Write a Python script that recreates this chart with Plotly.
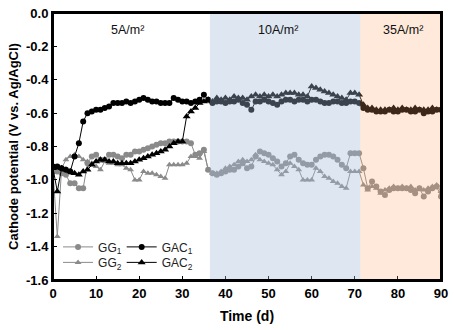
import plotly.graph_objects as go

days = list(range(0, 91))

gg1 = [-0.95, -0.95, -0.96, -0.97, -1.02, -1.02, -1.05, -1.05, -0.90, -0.86,
       -0.85, -0.88, -0.88, -0.85, -0.85, -0.86, -0.87, -0.85, -0.85, -0.83,
       -0.83, -0.82, -0.81, -0.80, -0.79, -0.78, -0.78, -0.77, -0.77, -0.77,
       -0.77, -0.77, -0.78, -0.85, -0.84, -0.82, -0.94, -0.96, -0.97, -0.96,
       -0.95, -0.94, -0.94, -0.92, -0.90, -0.93, -0.92, -0.86, -0.83, -0.84,
       -0.85, -0.87, -0.89, -0.92, -0.90, -0.86, -0.85, -0.88, -0.90, -0.91,
       -0.91, -0.88, -0.86, -0.85, -0.85, -0.86, -0.88, -0.91, -0.93, -0.84,
       -0.84, -0.84, -0.93, -1.05, -1.01, -1.04, -1.07, -1.09, -1.06, -1.05,
       -1.05, -1.05, -1.05, -1.06, -1.08, -1.05, -1.10, -1.07, -1.05, -1.04,
       -1.10]

gg2 = [-0.95, -1.34, -0.93, -0.88, -0.86, -0.85, -0.86, -0.88, -0.89, -0.90,
       -0.92, -0.94, -0.89, -0.90, -0.90, -0.91, -0.91, -0.93, -0.94, -1.00,
       -1.00, -0.95, -0.96, -0.96, -0.97, -0.98, -0.99, -0.91, -0.91, -0.91,
       -0.91, -0.90, -0.86, -0.86, -0.87, -0.83, -0.94, -0.96, -0.96, -0.95,
       -0.93, -0.92, -0.91, -0.89, -0.88, -0.89, -0.88, -0.85, -0.88, -0.89,
       -0.90, -0.91, -0.94, -0.97, -0.95, -0.90, -0.92, -0.94, -1.00, -1.00,
       -1.00, -0.93, -0.95, -0.98, -0.99, -1.01, -1.02, -1.04, -1.05, -0.95,
       -0.95, -0.95, -1.03, -1.06, -1.04, -1.05, -1.08, -1.06, -1.05, -1.04,
       -1.05, -1.04, -1.05, -1.04, -1.06, -1.05, -1.06, -1.05, -1.04, -1.03,
       -1.07]

gac1 = [-0.92, -0.92, -0.93, -0.94, -0.95, -0.86, -0.78, -0.65, -0.60, -0.59,
        -0.58, -0.58, -0.57, -0.56, -0.54, -0.54, -0.54, -0.53, -0.54, -0.53,
        -0.52, -0.51, -0.52, -0.53, -0.53, -0.54, -0.54, -0.54, -0.51, -0.52,
        -0.53, -0.53, -0.54, -0.53, -0.52, -0.49, -0.52, -0.54, -0.53, -0.53,
        -0.54, -0.53, -0.53, -0.52, -0.54, -0.55, -0.58, -0.53, -0.53, -0.52,
        -0.53, -0.54, -0.55, -0.53, -0.52, -0.52, -0.53, -0.52, -0.52, -0.53,
        -0.52, -0.52, -0.53, -0.54, -0.54, -0.53, -0.53, -0.54, -0.54, -0.53,
        -0.53, -0.54, -0.57, -0.58, -0.58, -0.59, -0.59, -0.59, -0.58, -0.59,
        -0.59, -0.58, -0.58, -0.59, -0.59, -0.58, -0.60, -0.59, -0.59, -0.58,
        -0.58]

gac2 = [-0.93, -1.07, -0.93, -0.94, -0.95, -0.96, -0.97, -0.95, -0.94, -0.91,
        -0.89, -0.88, -0.88, -0.89, -0.89, -0.90, -0.90, -0.90, -0.90, -0.89,
        -0.88, -0.87, -0.86, -0.85, -0.84, -0.83, -0.82, -0.80, -0.78, -0.77,
        -0.77, -0.62, -0.59, -0.57, -0.54, -0.53, -0.52, -0.53, -0.51, -0.52,
        -0.51, -0.52, -0.50, -0.51, -0.51, -0.52, -0.50, -0.49, -0.50, -0.49,
        -0.50, -0.49, -0.50, -0.49, -0.48, -0.48, -0.48, -0.49, -0.49, -0.50,
        -0.44, -0.45, -0.46, -0.47, -0.48, -0.49, -0.50, -0.51, -0.52, -0.48,
        -0.48, -0.49, -0.55, -0.57, -0.57, -0.58, -0.58, -0.58, -0.58, -0.57,
        -0.58, -0.57, -0.58, -0.58, -0.57, -0.58, -0.58, -0.58, -0.57, -0.58,
        -0.58]

x_ticks = [0, 10, 20, 30, 40, 50, 60, 70, 80, 90]
y_ticks = [0.0, -0.2, -0.4, -0.6, -0.8, -1.0, -1.2, -1.4, -1.6]
y_ticktext = ["0.0", "-0.2", "-0.4", "-0.6", "-0.8", "-1.0", "-1.2", "-1.4", "-1.6"]

phase_labels = ["5A/m²", "10A/m²", "35A/m²"]
phase_label_x = [17.3, 52.3, 81.3]
phase_bounds = [36.4, 71.3, 90]

GREY = "#8a8a8a"
BLACK = "#000000"

fig = go.Figure()
fig.add_trace(go.Scatter(x=days, y=gg1, mode="lines+markers", name="GG<sub>1</sub>",
                         line=dict(color=GREY, width=1),
                         marker=dict(symbol="circle", size=6, color=GREY), legend="legend"))
fig.add_trace(go.Scatter(x=days, y=gg2, mode="lines+markers", name="GG<sub>2</sub>",
                         line=dict(color=GREY, width=1),
                         marker=dict(symbol="triangle-up", size=6, color=GREY), legend="legend2"))
fig.add_trace(go.Scatter(x=days, y=gac1, mode="lines+markers", name="GAC<sub>1</sub>",
                         line=dict(color=BLACK, width=1),
                         marker=dict(symbol="circle", size=6, color=BLACK), legend="legend3"))
fig.add_trace(go.Scatter(x=days, y=gac2, mode="lines+markers", name="GAC<sub>2</sub>",
                         line=dict(color=BLACK, width=1),
                         marker=dict(symbol="triangle-up", size=7, color=BLACK), legend="legend4"))

# semi-transparent phase overlays drawn above data
fig.add_shape(type="rect", xref="x", yref="y", x0=phase_bounds[0], x1=phase_bounds[1],
              y0=-1.6, y1=0, fillcolor="rgb(160,186,216)", opacity=0.36,
              line=dict(width=0), layer="above")
fig.add_shape(type="rect", xref="x", yref="y", x0=phase_bounds[1], x1=phase_bounds[2],
              y0=-1.6, y1=0, fillcolor="rgb(250,165,100)", opacity=0.24,
              line=dict(width=0), layer="above")
# frame on top
fig.add_shape(type="rect", xref="paper", yref="paper", x0=0, x1=1, y0=0, y1=1,
              line=dict(color="black", width=2), fillcolor="rgba(0,0,0,0)", layer="above")

for lab, lx in zip(phase_labels, phase_label_x):
    fig.add_annotation(x=lx, y=-0.1, text=lab, showarrow=False,
                       font=dict(family="Liberation Sans, Arial", size=12.5, color="#111"))

axis_font = dict(family="Liberation Sans, Arial", size=13, color="black", weight="bold")
leg_font = dict(family="Liberation Sans, Arial", size=12, color="#222")

def leg(x, y):
    return dict(x=x, y=y, xanchor="left", yanchor="middle", bgcolor="rgba(0,0,0,0)",
                font=leg_font, itemwidth=30, borderwidth=0)

fig.update_layout(
    width=454, height=330,
    margin=dict(l=53, r=10, t=6, b=50),
    paper_bgcolor="white", plot_bgcolor="white",
    xaxis=dict(range=[0, 90], tickvals=x_ticks, ticks="inside", ticklen=4,
               tickcolor="black", showline=True, linecolor="black", linewidth=2,
               mirror=True, showgrid=False, zeroline=False, tickfont=axis_font,
               title=dict(text="Time (d)", font=dict(family="Liberation Sans, Arial",
                                                      size=14, color="black", weight="bold"),
                          standoff=12)),
    yaxis=dict(range=[-1.6, 0], tickvals=y_ticks, ticktext=y_ticktext, ticks="inside",
               ticklen=4, tickcolor="black", showline=True, linecolor="black", linewidth=2,
               mirror=True, showgrid=False, zeroline=False, tickfont=axis_font,
               title=dict(text="Cathode potential (V vs. Ag/AgCl)",
                          font=dict(family="Liberation Sans, Arial", size=13,
                                    color="black", weight="bold"),
                          standoff=4)),
    legend=leg(0.013, 0.124),
    legend2=leg(0.013, 0.066),
    legend3=leg(0.177, 0.124),
    legend4=leg(0.177, 0.066),
    showlegend=True,
)

fig.write_html("out.html", config={"displayModeBar": False},
               post_script="document.body.style.margin='0';")
